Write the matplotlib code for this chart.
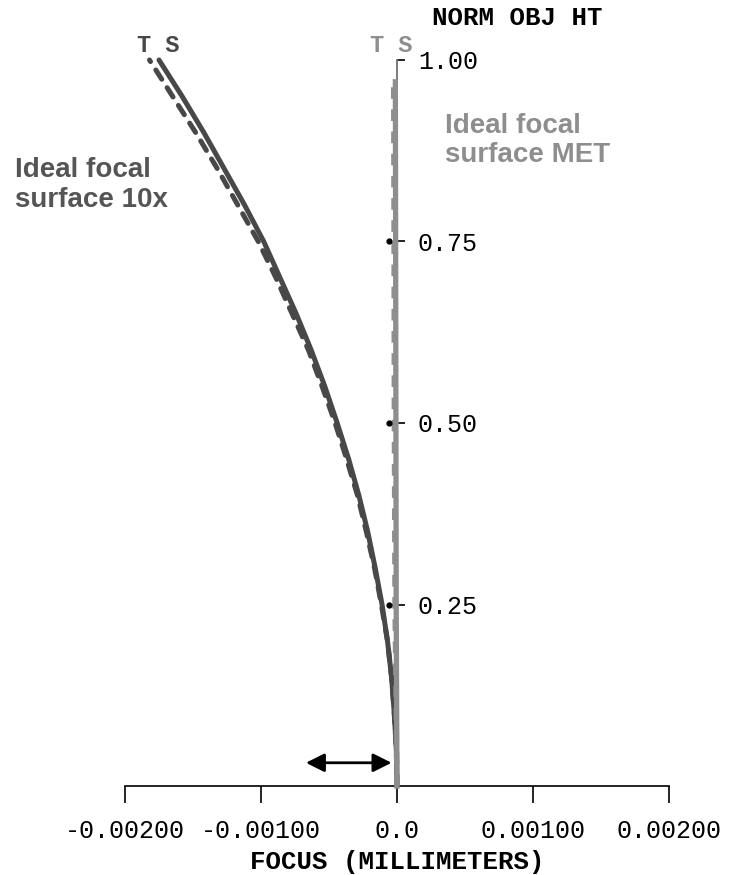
import numpy as np
import matplotlib
matplotlib.use('Agg')
from matplotlib import pyplot as plt
from matplotlib.ticker import FixedLocator, FixedFormatter

# field curvature (focus in mm vs normalised object height)
ht = [0.0, 0.05, 0.10, 0.15, 0.20, 0.25, 0.30, 0.35, 0.40, 0.45, 0.50,
      0.55, 0.60, 0.65, 0.70, 0.75, 0.80, 0.85, 0.90, 0.95, 1.00]
s_10x = [0.0, -0.000005, -0.00002, -0.00004, -0.00007, -0.00011, -0.00016, -0.000215,
         -0.00028, -0.000355, -0.00044, -0.00053, -0.00063, -0.00074, -0.00086, -0.00098,
         -0.00112, -0.00127, -0.00142, -0.00158, -0.00175]
t_10x = [0.0, -0.000005, -0.00002, -0.00004, -0.00007, -0.000115, -0.000165, -0.000225,
         -0.00029, -0.00037, -0.000455, -0.00055, -0.00065, -0.00077, -0.00089, -0.00102,
         -0.00117, -0.00132, -0.00148, -0.00165, -0.00182]

ht_met = [0.0, 0.25, 0.5, 0.75, 0.97]
s_met = [0.0, -0.000006, -0.000008, -0.00001, -0.000012]
t_met = [0.0, -0.000015, -0.00002, -0.000022, -0.000025]

xticks = [-0.002, -0.001, 0.0, 0.001, 0.002]
xticklabels = ['-0.00200', '-0.00100', '0.0', '0.00100', '0.00200']
yticks = [0.25, 0.50, 0.75, 1.00]

dots_x = [-0.00006, -0.00006, -0.00006]
dots_y = [0.75, 0.50, 0.25]

dark = '#484848'
light = '#8e8e8e'
mono = 'Liberation Mono'

fig = plt.figure(figsize=(7.35, 8.75), dpi=100)
ax = fig.add_axes([125/735, 89/875, 544/735, 726/875])

ax.plot(t_10x, ht, color=dark, lw=3.6, ls=(0, (2.2, 2.0)), clip_on=False,
        solid_capstyle='round', dash_capstyle='round')
ax.plot(s_10x, ht, color=dark, lw=3.6, clip_on=False, solid_capstyle='round')
ax.plot(t_met, ht_met, color=light, lw=3.8, ls=(0, (2.2, 2.0)), clip_on=False, zorder=3)
ax.plot(s_met, ht_met, color=light, lw=3.8, clip_on=False, zorder=3)
ax.plot([0, 0], [0.97, 1.0], color=light, lw=1.2, clip_on=False, zorder=3)
ax.plot(dots_x, dots_y, 'o', color='black', ms=3.5, clip_on=False, zorder=4)

ax.annotate('', xy=(-0.00004, 0.032), xytext=(-0.00067, 0.032),
            arrowprops=dict(arrowstyle='<|-|>', color='black', lw=2, mutation_scale=28,
                            shrinkA=0, shrinkB=0))

ax.set_xlim(-0.002, 0.002)
ax.set_ylim(0, 1)

for side in ['top', 'left']:
    ax.spines[side].set_visible(False)
ax.spines['right'].set_position(('data', 0))
ax.spines['right'].set_linewidth(1.2)
ax.spines['bottom'].set_linewidth(1.2)

ax.yaxis.tick_right()
ax.yaxis.set_major_locator(FixedLocator(yticks))
ax.yaxis.set_major_formatter(FixedFormatter(['%.2f' % v for v in yticks]))
ax.tick_params(axis='y', direction='out', length=6, width=1.2, pad=9, labelsize=18)
ax.xaxis.set_major_locator(FixedLocator(xticks))
ax.xaxis.set_major_formatter(FixedFormatter(xticklabels))
ax.tick_params(axis='x', direction='out', length=12, width=1.2, pad=12, labelsize=18)
for lab in ax.get_xticklabels() + ax.get_yticklabels():
    lab.set_family(mono)

ax.set_xlabel('FOCUS (MILLIMETERS)', family=mono, fontweight='bold', fontsize=18.5, labelpad=5)

fig.text(517/735, 1 - 18/875, 'NORM OBJ HT', family=mono, fontweight='bold', fontsize=18.5,
         ha='center', va='center')
fig.text(158/735, 1 - 45/875, 'T S', family=mono, fontweight='bold', fontsize=17,
         color=dark, ha='center', va='center')
fig.text(391/735, 1 - 45/875, 'T S', family=mono, fontweight='bold', fontsize=17,
         color=light, ha='center', va='center')

fig.text(15/735, 1 - 157/875, 'Ideal focal\nsurface 10x', family='Liberation Sans',
         fontweight='bold', fontsize=20, color='#555555', va='top', ha='left', linespacing=1.2)
fig.text(445/735, 1 - 113/875, 'Ideal focal\nsurface MET', family='Liberation Sans',
         fontweight='bold', fontsize=20, color='#8e8e8e', va='top', ha='left', linespacing=1.15)

fig.savefig('out.png', dpi=100)
